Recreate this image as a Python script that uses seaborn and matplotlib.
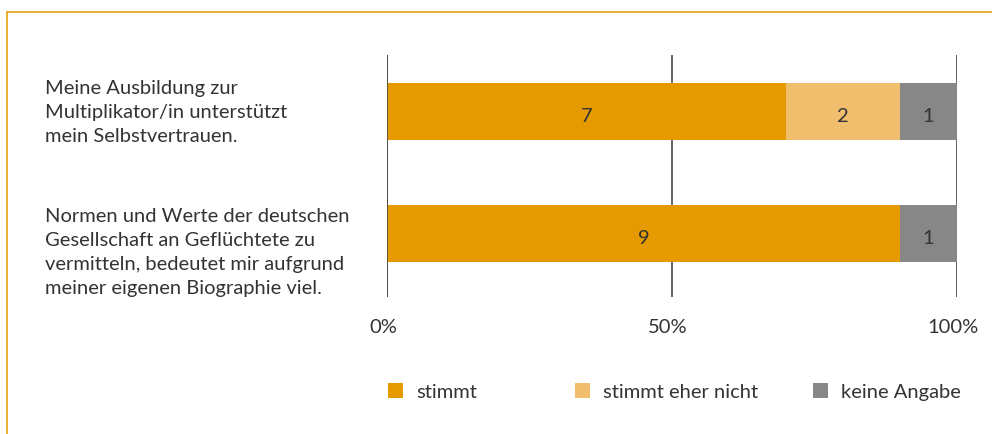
import numpy as np
import pandas as pd
import matplotlib
matplotlib.use("Agg")
import matplotlib.pyplot as plt
import matplotlib.transforms as mtransforms
from matplotlib.lines import Line2D
import seaborn as sns

# ---- data ----
statements = [
    "Meine Ausbildung zur\nMultiplikator/in unterstützt\nmein Selbstvertrauen.",
    "Normen und Werte der deutschen\nGesellschaft an Geflüchtete zu\nvermitteln, bedeutet mir aufgrund\nmeiner eigenen Biographie viel.",
]
series = ["stimmt", "stimmt eher nicht", "keine Angabe"]
stimmt = [7, 9]
stimmt_eher_nicht = [2, 0]
keine_angabe = [1, 1]
tick_labels = ["0%", "50%", "100%"]
colors = ["#E59A00", "#F0BE6C", "#878787"]

sns.set_theme(style="white")
plt.rcParams["font.family"] = ["Lato", "DejaVu Sans"]
TXT = "#333333"
FS = 14.5

counts = np.array([stimmt, stimmt_eher_nicht, keine_angabe], dtype=float)
totals = counts.sum(axis=0)
shares = counts / totals
cum = np.cumsum(shares, axis=0)

fig = plt.figure(figsize=(9.92, 4.35), dpi=100)
ax = fig.add_axes([387 / 992, 1 - 298 / 435, 570 / 992, (298 - 56) / 435])

ids = [f"s{i}" for i in range(len(statements))]
# draw cumulative bars from the largest down so they appear stacked
for k in range(len(series) - 1, -1, -1):
    df = pd.DataFrame({"id": ids, "val": cum[k]})
    sns.barplot(data=df, x="val", y="id", orient="h", color=colors[k],
                saturation=1, width=0.467, ax=ax, linewidth=0, edgecolor="none")

# value labels
for k in range(len(series)):
    for i in range(len(statements)):
        if counts[k, i] > 0:
            xc = cum[k, i] - shares[k, i] / 2
            ax.text(xc, i + 0.03, f"{int(counts[k, i])}", ha="center", va="center",
                    fontsize=FS, color=TXT)

ax.set_xlim(0, 1)
ax.set_ylim(1.52, -0.463)
ax.set_xticks([0, 0.5, 1])
ax.set_xticklabels(tick_labels, fontsize=FS, color=TXT)
ax.tick_params(axis="x", length=0, pad=15)
shift = mtransforms.ScaledTranslation(-4 / 100, 0, fig.dpi_scale_trans)
for t in ax.get_xticklabels():
    t.set_transform(t.get_transform() + shift)
ax.set_yticks([])
ax.set_xlabel("")
ax.set_ylabel("")
for s in ax.spines.values():
    s.set_visible(False)
for xv in [0, 0.5, 1]:
    ax.axvline(xv, color="#4a4a4a", lw=1.2, zorder=0)
ax.axvline(0, color="#4a4a4a", lw=1.2, zorder=5)

# category labels
offsets = [0, -12.6]
for i, lab in enumerate(statements):
    ax.annotate(lab, xy=(45 / 992, i), xycoords=("figure fraction", "data"),
                xytext=(0, offsets[i]), textcoords="offset points",
                ha="left", va="center", fontsize=FS, color=TXT, linespacing=1.5)

# legend
legend_x = [386.5 / 992, 573.5 / 992, 811.5 / 992]
for k in range(len(series)):
    h = Line2D([0], [0], marker="s", linestyle="none", markersize=10.8,
               markerfacecolor=colors[k], markeredgecolor=colors[k], markeredgewidth=0)
    leg = fig.legend([h], [series[k]], loc="center left",
                     bbox_to_anchor=(legend_x[k], 1 - 392 / 435), frameon=False,
                     fontsize=FS, handletextpad=0.67, borderpad=0, borderaxespad=0,
                     handlelength=0.8)
    for t in leg.get_texts():
        t.set_color(TXT)

# frame lines (top and left)
fig.add_artist(Line2D([7 / 992, 1], [1 - 13 / 435, 1 - 13 / 435], color="#E8A20F", lw=1.2,
                      transform=fig.transFigure))
fig.add_artist(Line2D([7 / 992, 7 / 992], [0, 1 - 13 / 435], color="#E8A20F", lw=1.2,
                      transform=fig.transFigure))

fig.savefig("out.png", dpi=100)
